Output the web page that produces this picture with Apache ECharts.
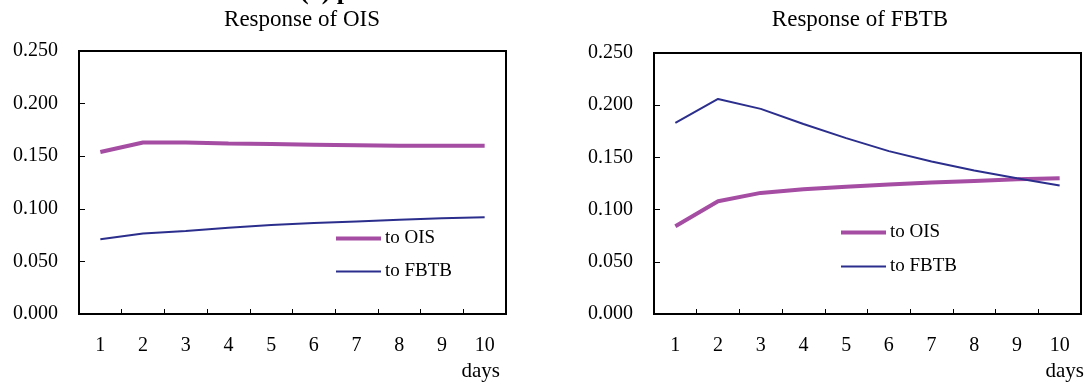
<!DOCTYPE html>
<html>
<head>
<meta charset="utf-8">
<script src="https://cdn.jsdelivr.net/npm/echarts@6/dist/echarts.min.js"></script>
<style>
  html, body { margin: 0; padding: 0; background: #fff; }
  #chart { width: 1089px; height: 389px; }
</style>
</head>
<body>
<div id="chart"></div>
<script>
var days = ['1', '2', '3', '4', '5', '6', '7', '8', '9', '10'];
var yTicks = [0, 0.05, 0.10, 0.15, 0.20, 0.25];
// response of OIS
var oisToOis = [0.154, 0.163, 0.163, 0.162, 0.1615, 0.161, 0.1605, 0.160, 0.160, 0.160];
var oisToFbtb = [0.071, 0.0765, 0.079, 0.082, 0.0845, 0.0865, 0.088, 0.0895, 0.091, 0.092];
// response of FBTB
var fbtbToOis = [0.084, 0.108, 0.116, 0.1195, 0.122, 0.124, 0.126, 0.1275, 0.129, 0.130];
var fbtbToFbtb = [0.183, 0.206, 0.1965, 0.182, 0.1685, 0.156, 0.146, 0.1375, 0.130, 0.123];

var purple = '#A54CA3';
var navy = '#2B2E8C';
var font = 'Liberation Serif';

var chartDom = document.getElementById('chart');
var myChart = echarts.init(chartDom);

function xAxis(idx) {
    return {
        type: 'category',
        gridIndex: idx,
        data: days,
        boundaryGap: true,
        axisLine: { show: true, lineStyle: { color: '#000', width: 2 } },
        axisTick: { show: true, inside: true, length: 5, lineStyle: { color: '#000', width: 1 } },
        axisLabel: { color: '#000', fontFamily: font, fontSize: 20, margin: 22 },
        splitLine: { show: false }
    };
}
function yAxis(idx) {
    return {
        type: 'value',
        gridIndex: idx,
        min: yTicks[0],
        max: yTicks[yTicks.length - 1],
        interval: 0.05,
        axisLine: { show: true, lineStyle: { color: '#000', width: 2 } },
        axisTick: { show: true, inside: true, length: 6, lineStyle: { color: '#000', width: 1 } },
        axisLabel: {
            color: '#000', fontFamily: font, fontSize: 20, margin: 21,
            formatter: function (v) { return v.toFixed(3); }
        },
        splitLine: { show: false }
    };
}
function line(name, idx, data, color, width) {
    return {
        name: name,
        type: 'line',
        xAxisIndex: idx,
        yAxisIndex: idx,
        symbol: 'none',
        smooth: false,
        animation: false,
        lineStyle: { color: color, width: width },
        itemStyle: { color: color },
        data: data
    };
}
function legend(left, top, gap) {
    return {
        orient: 'vertical',
        left: left,
        top: top,
        padding: 0,
        itemWidth: 45,
        itemHeight: 14,
        itemGap: gap,
        selectedMode: false,
        textStyle: { color: '#000', fontFamily: font, fontSize: 19, padding: [0, 0, 0, -1] },
        data: [
            { name: 'to OIS', itemStyle: { opacity: 0 }, lineStyle: { width: 4, opacity: 1 } },
            { name: 'to FBTB', itemStyle: { opacity: 0 }, lineStyle: { width: 2, opacity: 1 } }
        ]
    };
}

var option = {
    backgroundColor: '#fff',
    animation: false,
    grid: [
        { left: 79, right: 583, top: 51, bottom: 75, show: true, borderColor: '#000', borderWidth: 2 },
        { left: 654, right: 8, top: 53, bottom: 75, show: true, borderColor: '#000', borderWidth: 2 }
    ],
    legend: [legend(334, 229, 14), legend(839, 223, 15)],
    xAxis: [xAxis(0), xAxis(1)],
    yAxis: [yAxis(0), yAxis(1)],
    series: [
        line('to OIS', 0, oisToOis, purple, 4),
        line('to FBTB', 0, oisToFbtb, navy, 2),
        line('to OIS', 1, fbtbToOis, purple, 4),
        line('to FBTB', 1, fbtbToFbtb, navy, 2)
    ],
    graphic: [
        { type: 'text', x: 300, y: 5, style: { text: '(a) p', font: 'bold 26px "' + font + '"', fill: '#000', textVerticalAlign: 'bottom' } },
        { type: 'text', x: 302, y: 20, style: { text: 'Response of OIS', font: '23px "' + font + '"', fill: '#000', textAlign: 'center', textVerticalAlign: 'middle' } },
        { type: 'text', x: 860, y: 20, style: { text: 'Response of FBTB', font: '23px "' + font + '"', fill: '#000', textAlign: 'center', textVerticalAlign: 'middle' } },
        { type: 'text', x: 500, y: 371, style: { text: 'days', font: '21px "' + font + '"', fill: '#000', textAlign: 'right', textVerticalAlign: 'middle' } },
        { type: 'text', x: 1084, y: 371, style: { text: 'days', font: '21px "' + font + '"', fill: '#000', textAlign: 'right', textVerticalAlign: 'middle' } }
    ]
};
option && myChart.setOption(option);

window.addEventListener('resize', function () {
    myChart.resize();
});
</script>
</body>
</html>
